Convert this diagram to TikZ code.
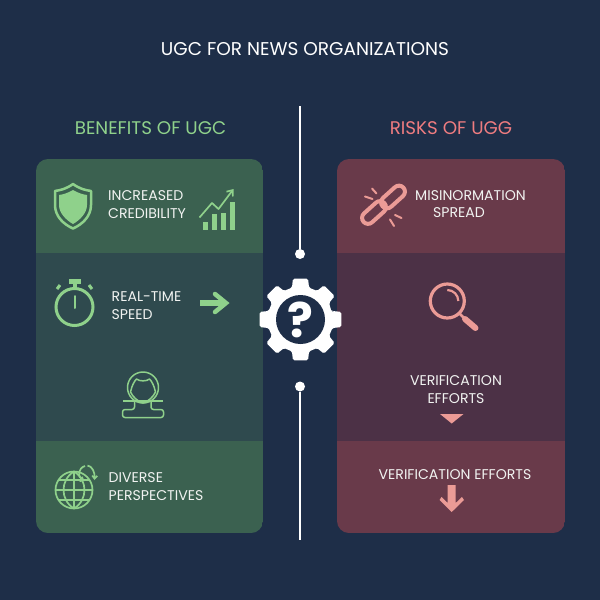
\documentclass[tikz,border=0pt]{standalone}
\usepackage{fontspec}
\setmainfont{Poppins}
\usetikzlibrary{arrows.meta}
\definecolor{bgnavy}{HTML}{1E2E48}
\definecolor{greenlight}{HTML}{3B6150}
\definecolor{greendark}{HTML}{2F4A4E}
\definecolor{redlight}{HTML}{693A4A}
\definecolor{reddark}{HTML}{4C3146}
\definecolor{greenicon}{HTML}{8FD18B}
\definecolor{pinkicon}{HTML}{EB9B96}
\definecolor{redhead}{HTML}{EE7C80}
\definecolor{lighttext}{HTML}{F1F3F1}

\begin{document}
\begin{tikzpicture}[x=1pt,y=-1pt,
  lbl/.style={text=lighttext,font=\fontsize{14.1}{17.5}\selectfont,inner sep=0pt},
  head/.style={font=\fontsize{18.3}{20}\selectfont,inner sep=0pt},
  dot/.style={circle,fill=white,minimum size=10pt,inner sep=0pt},
  divider/.style={draw=white,line width=2pt},
  greenline/.style={draw=greenicon,line width=1.5pt,line join=round},
  pinkline/.style={draw=pinkicon,line width=3pt,line cap=round}
]

\fill[bgnavy] (0,0) rectangle (600,600);
\useasboundingbox (0,0) rectangle (600,600);

\node[text=white,font=\fontsize{18.5}{20}\selectfont,inner sep=0pt] (title) at (305,49) {UGC FOR NEWS ORGANIZATIONS};
\node[head,text=greenicon] (benefits) at (150.5,128) {BENEFITS OF UGC};
\node[head,text=redhead] (risks) at (451,128) {RISKS OF UGG};

% panels
\begin{scope}
\clip[rounded corners=12pt] (36,159) rectangle (263,533);
\fill[greenlight] (36,159) rectangle (263,533);
\fill[greendark] (36,253) rectangle (263,441);
\end{scope}
\begin{scope}
\clip[rounded corners=12pt] (337,159) rectangle (565,533);
\fill[redlight] (337,159) rectangle (565,533);
\fill[reddark] (337,253) rectangle (565,441);
\end{scope}

% centre line and gear
\coordinate (linetop) at (300,106);
\coordinate (linebottom) at (300,540);
\node[dot] (dottop) at (300,254) {};
\node[dot] (dotbottom) at (300,386.5) {};
\draw[divider] (linetop) -- (dottop);
\draw[divider] (dotbottom) -- (linebottom);

\begin{scope}[shift={(300.5,319.5)}]
\fill[white,rounded corners=1.5pt] (-14:32) \foreach \a in {0,45,...,315} {
  -- (\a-15:33) -- (\a-10.5:41.5) -- (\a+10.5:41.5) -- (\a+15:33) } -- cycle;
\fill[bgnavy] (0,0) circle[radius=24.5];
\node[text=white,font=\fontsize{48}{48}\selectfont\bfseries,inner sep=0pt] (question) at (0,0.5) {?};
\end{scope}

% shield
\draw[greenicon,line width=2.5pt,line join=round] (73,184) .. controls (66,189) and (61,190) .. (55,191)
  -- (55,205) .. controls (55,216) and (63,224) .. (73,228.5)
  .. controls (83,224) and (91,216) .. (91,205) -- (91,191)
  .. controls (85,190) and (80,189) .. (73,184) -- cycle;
\fill[greenicon] (73,190) .. controls (68,193) and (63,194.5) .. (59,195)
  -- (59,205) .. controls (59,213) and (66,220) .. (73,224)
  .. controls (80,220) and (87,213) .. (87,205) -- (87,195)
  .. controls (83,194.5) and (78,193) .. (73,190) -- cycle;
\node[lbl,align=left,anchor=west] (credibility) at (108,204.5) {INCREASED\\CREDIBILITY};

% chart
\foreach \bx/\by in {203/222,212/213.5,221/212.5,230/202}
  \fill[greenicon] (\bx,\by) rectangle ++(5,229.5-\by);
\draw[greenicon,line width=1.7pt,line join=round,-{Straight Barb[length=5pt,width=8pt]}] (199.5,217.5) -- (212,203) -- (218.5,209) -- (233.5,189);

% stopwatch
\draw[greenicon,line width=3pt] (74.5,307) circle[radius=18.5];
\fill[greenicon] (68.5,279) rectangle (80.5,284);
\fill[greenicon] (72.5,284) rectangle (76.5,289);
\draw[greenicon,line width=3pt] (60,285) -- (57,289);
\draw[greenicon,line width=3pt] (89,285) -- (92,289);
\draw[greenicon,line width=2pt,line cap=round] (74.5,296) -- (74.5,308);
\node[lbl,align=left,anchor=west] (speed) at (111.5,305.5) {REAL-TIME\\SPEED};

% arrow to the right
\draw[greenicon,line width=6.5pt] (200,303) -- (225,303);
\draw[greenicon,line width=4.5pt,line cap=round] (215,294) -- (226,303) -- (215,312);

% person
\draw[greenline] (143,387.5) circle[radius=15.5];
\draw[greenline] (123,401) -- (163,401);
\draw[greenline,rounded corners=2.5pt] (134.5,401) -- (134.5,409.5) -- (122.5,409.5) -- (122.5,417.5) -- (163.5,417.5) -- (163.5,409.5) -- (151,409.5) -- (151,401);
\draw[greenline] (130.5,392) .. controls (132,385) and (134.5,381) .. (136.5,379)
  .. controls (139,381.5) and (147,381.5) .. (149.5,379)
  .. controls (151.5,381) and (154,385) .. (155.5,392)
  .. controls (153,397) and (149,401) .. (143,403)
  .. controls (137,401) and (133,397) .. (130.5,392);

% globe
\begin{scope}[greenicon,line width=1.7pt]
\draw (74,490) circle[radius=18.5];
\draw (74,471.5) -- (74,508.5);
\draw (74,471.5) .. controls (60,480) and (60,500) .. (74,508.5);
\draw (74,471.5) .. controls (88,480) and (88,500) .. (74,508.5);
\draw (55.5,490) -- (92.5,490);
\draw (59,480) -- (89,480);
\draw (59,500) -- (89,500);
\draw[-{Straight Barb[length=3pt,width=5pt]}] (85,466) .. controls (78,468) and (77,477) .. (84.5,481);
\draw[-{Straight Barb[length=3pt,width=5pt]}] (87.5,465.5) .. controls (92,466) and (95,472) .. (94.5,480);
\end{scope}
\node[lbl,align=left,anchor=west] (perspectives) at (108.5,486.5) {DIVERSE\\PERSPECTIVES};

% broken link
\draw[pinkline,line width=4pt,rotate around={42:(374,212.5)},rounded corners=6pt] (360,206.5) rectangle (388,218.5);
\draw[pinkline,line width=4pt,rotate around={42:(393,197)},rounded corners=6pt] (379,191) rectangle (407,203);
\draw[pinkline,line width=2pt] (372,188.5) -- (376.5,193.5);
\draw[pinkline,line width=2pt] (365,196.5) -- (372.5,199);
\draw[pinkline,line width=2pt] (395,215) -- (401.5,218);
\draw[pinkline,line width=2pt] (390,219.5) -- (394,226);
\node[lbl] (misinformation) at (470.5,195.5) {MISINORMATION};
\node[lbl] (spread) at (459,213) {SPREAD};

% magnifier
\draw[pinkicon,line width=3.2pt] (447.3,301) circle[radius=17];
\draw[pinkicon,line width=2.2pt] (447.3,290) arc[start angle=-90,end angle=0,radius=11];
\draw[pinkicon,line width=2.5pt] (460,314) -- (466,320);
\draw[pinkicon,line width=6pt,line cap=round] (465,319) -- (475.5,328);
\node[lbl,align=center] (verifytwo) at (456,389.5) {VERIFICATION\\EFFORTS};
\fill[pinkicon] (440,414) -- (463.5,414) -- (451.7,423.5) -- cycle;

\node[lbl] (verifyone) at (455,474.5) {VERIFICATION EFFORTS};
\fill[pinkicon] (447.7,485) -- (455.7,485) -- (455.7,503) -- (462,497) -- (464,500) -- (451.7,512) -- (439.5,500) -- (441.5,497) -- (447.7,503) -- cycle;

\end{tikzpicture}
\end{document}
